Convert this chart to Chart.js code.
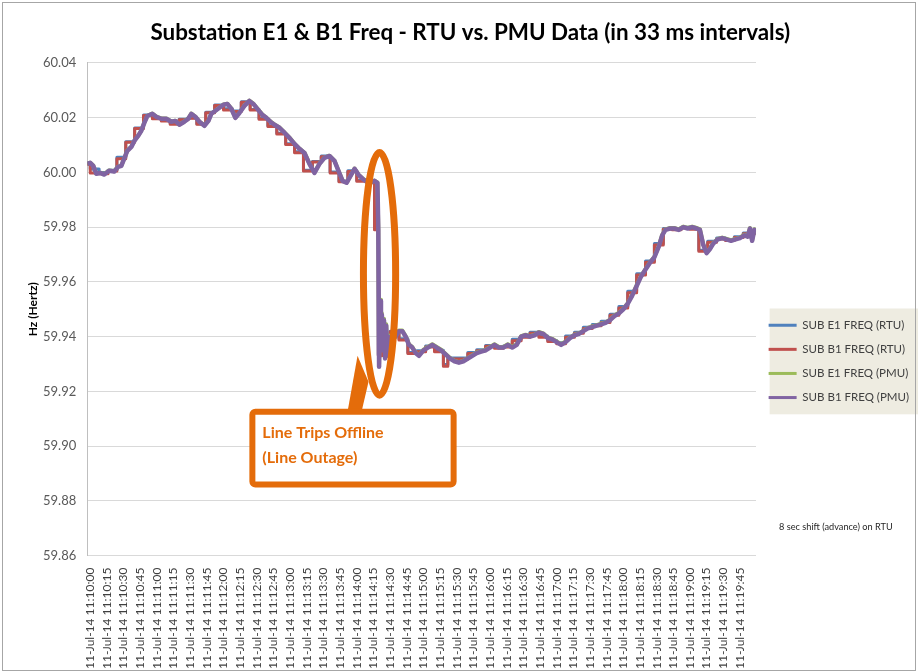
<!DOCTYPE html>
<html>
<head>
<meta charset="utf-8">
<script src="https://cdn.jsdelivr.net/npm/chart.js@4.4.0/dist/chart.umd.min.js"></script>
<style>
  html, body { margin: 0; padding: 0; background: #fff; }
</style>
</head>
<body>
<canvas id="freqChart" width="918" height="672"></canvas>
<script>
// x axis tick labels (every 15 s)
const tickLabels = [
  '11-Jul-14 11:10:00', '11-Jul-14 11:10:15', '11-Jul-14 11:10:30', '11-Jul-14 11:10:45',
  '11-Jul-14 11:11:00', '11-Jul-14 11:11:15', '11-Jul-14 11:11:30', '11-Jul-14 11:11:45',
  '11-Jul-14 11:12:00', '11-Jul-14 11:12:15', '11-Jul-14 11:12:30', '11-Jul-14 11:12:45',
  '11-Jul-14 11:13:00', '11-Jul-14 11:13:15', '11-Jul-14 11:13:30', '11-Jul-14 11:13:45',
  '11-Jul-14 11:14:00', '11-Jul-14 11:14:15', '11-Jul-14 11:14:30', '11-Jul-14 11:14:45',
  '11-Jul-14 11:15:00', '11-Jul-14 11:15:15', '11-Jul-14 11:15:30', '11-Jul-14 11:15:45',
  '11-Jul-14 11:16:00', '11-Jul-14 11:16:15', '11-Jul-14 11:16:30', '11-Jul-14 11:16:45',
  '11-Jul-14 11:17:00', '11-Jul-14 11:17:15', '11-Jul-14 11:17:30', '11-Jul-14 11:17:45',
  '11-Jul-14 11:18:00', '11-Jul-14 11:18:15', '11-Jul-14 11:18:30', '11-Jul-14 11:18:45',
  '11-Jul-14 11:19:00', '11-Jul-14 11:19:15', '11-Jul-14 11:19:30', '11-Jul-14 11:19:45'
]

// PMU samples, seconds after 11:10:00
const pmuTime = [
  -2.7, 0, 2.7, 5.4, 9, 12.6, 17, 21.6, 25, 28,
  30.6, 33.4, 37, 39.7, 43.3, 46, 48.7, 51.4, 55.9, 59.5,
  64, 68.5, 73, 76.6, 80.2, 84.7, 88.3, 91, 94.6, 98.3,
  102.8, 106.4, 109, 112.7, 116.3, 119.9, 123.5, 127.1, 130.7, 134.3,
  138.8, 143.3, 146.9, 150.5, 155, 158.6, 162.2, 165.9, 170.4, 174.9,
  179.4, 183.9, 188.4, 192.9, 197.4, 201.9, 206.4, 210.9, 215.4, 219.9,
  223.5, 227.2, 230.8, 234.4, 238, 241.6, 245.2, 248.8, 252.4, 256,
  258.6, 259.4, 260.1, 261, 261.8, 262.6, 263.5, 264.5, 265.5, 266.5,
  267.5, 268.5, 270, 272, 275, 278, 281, 284, 287, 290,
  293, 296, 300, 304, 308, 312, 316, 320, 324, 328,
  332, 336, 340, 344, 348, 352, 356, 360, 364, 368,
  372, 376, 380, 384, 388, 392, 396, 400, 404, 408,
  412, 416, 420, 424, 428, 432, 436, 440, 444, 448,
  452, 456, 460, 464, 468, 472, 476, 480, 484, 488,
  492, 496, 500, 504, 508, 512, 515, 518, 522, 526,
  530, 534, 538, 542, 546, 549, 552, 555, 558, 561,
  565, 569, 573, 577, 581, 585, 589, 592, 594, 596,
  598, 599.5
]
const pmuB1 = [
  60.0031, 60.0035, 60.0024, 59.9995, 59.9998, 59.9992, 60.0006, 60.0003, 60.0020, 60.0024,
  60.0050, 60.0079, 60.0093, 60.0115, 60.0134, 60.0152, 60.0181, 60.0206, 60.0214, 60.0203,
  60.0196, 60.0196, 60.0185, 60.0188, 60.0174, 60.0185, 60.0196, 60.0214, 60.0203, 60.0185,
  60.0170, 60.0188, 60.0214, 60.0225, 60.0236, 60.0247, 60.0250, 60.0232, 60.0199, 60.0217,
  60.0243, 60.0261, 60.0250, 60.0232, 60.0210, 60.0199, 60.0185, 60.0174, 60.0163, 60.0145,
  60.0126, 60.0104, 60.0086, 60.0071, 60.0031, 59.9998, 60.0031, 60.0053, 60.0060, 60.0042,
  60.0006, 59.9969, 59.9962, 59.9987, 60.0013, 59.9991, 59.9977, 59.9966, 59.9962, 59.9969,
  59.9962, 59.9790, 59.9290, 59.9530, 59.9440, 59.9480, 59.9350, 59.9460, 59.9320, 59.9440,
  59.9330, 59.9400, 59.9370, 59.9390, 59.9400, 59.9420, 59.9420, 59.9400, 59.9370, 59.9360,
  59.9340, 59.9330, 59.9350, 59.9360, 59.9370, 59.9360, 59.9350, 59.9335, 59.9320, 59.9310,
  59.9305, 59.9310, 59.9320, 59.9330, 59.9340, 59.9345, 59.9350, 59.9360, 59.9370, 59.9360,
  59.9360, 59.9370, 59.9360, 59.9370, 59.9400, 59.9405, 59.9400, 59.9405, 59.9415, 59.9410,
  59.9395, 59.9390, 59.9380, 59.9370, 59.9380, 59.9395, 59.9405, 59.9410, 59.9420, 59.9430,
  59.9435, 59.9440, 59.9445, 59.9450, 59.9460, 59.9475, 59.9485, 59.9500, 59.9520, 59.9550,
  59.9585, 59.9620, 59.9645, 59.9670, 59.9690, 59.9730, 59.9770, 59.9790, 59.9795, 59.9795,
  59.9790, 59.9800, 59.9795, 59.9800, 59.9795, 59.9790, 59.9735, 59.9705, 59.9720, 59.9740,
  59.9755, 59.9760, 59.9755, 59.9750, 59.9755, 59.9760, 59.9770, 59.9765, 59.9795, 59.9750,
  59.9790, 59.9780
]
const pmuE1 = [
  60.0032, 60.0035, 60.0025, 59.9996, 59.9999, 59.9994, 60.0007, 60.0004, 60.0021, 60.0025,
  60.0051, 60.0080, 60.0094, 60.0116, 60.0135, 60.0153, 60.0182, 60.0207, 60.0215, 60.0204,
  60.0197, 60.0197, 60.0186, 60.0189, 60.0175, 60.0186, 60.0197, 60.0215, 60.0204, 60.0186,
  60.0171, 60.0189, 60.0215, 60.0226, 60.0237, 60.0248, 60.0251, 60.0233, 60.0200, 60.0218,
  60.0244, 60.0262, 60.0251, 60.0233, 60.0211, 60.0200, 60.0186, 60.0175, 60.0164, 60.0146,
  60.0127, 60.0105, 60.0087, 60.0072, 60.0032, 59.9999, 60.0032, 60.0054, 60.0061, 60.0043,
  60.0007, 59.9970, 59.9963, 59.9988, 60.0014, 59.9992, 59.9978, 59.9967, 59.9963, 59.9970,
  59.9963, 59.9795, 59.9300, 59.9535, 59.9445, 59.9485, 59.9355, 59.9465, 59.9325, 59.9445,
  59.9335, 59.9405, 59.9372, 59.9392, 59.9402, 59.9422, 59.9422, 59.9402, 59.9372, 59.9362,
  59.9342, 59.9332, 59.9352, 59.9362, 59.9372, 59.9362, 59.9352, 59.9337, 59.9322, 59.9312,
  59.9307, 59.9312, 59.9322, 59.9332, 59.9342, 59.9347, 59.9352, 59.9362, 59.9372, 59.9362,
  59.9362, 59.9372, 59.9362, 59.9372, 59.9402, 59.9407, 59.9402, 59.9407, 59.9417, 59.9412,
  59.9397, 59.9392, 59.9382, 59.9372, 59.9382, 59.9397, 59.9407, 59.9412, 59.9422, 59.9432,
  59.9437, 59.9442, 59.9447, 59.9452, 59.9462, 59.9477, 59.9487, 59.9502, 59.9522, 59.9552,
  59.9587, 59.9622, 59.9647, 59.9672, 59.9692, 59.9732, 59.9772, 59.9792, 59.9797, 59.9797,
  59.9792, 59.9802, 59.9797, 59.9802, 59.9797, 59.9792, 59.9737, 59.9707, 59.9722, 59.9742,
  59.9757, 59.9762, 59.9757, 59.9752, 59.9757, 59.9762, 59.9772, 59.9767, 59.9797, 59.9752,
  59.9792, 59.9782
]

// RTU samples (held until the next sample)
const rtuTime = [
  -2.7, 0, 8, 16, 24, 32, 40, 48, 56, 64,
  72, 80, 88, 96, 104, 112, 120, 128, 136, 144,
  152, 160, 168, 176, 184, 192, 200, 208, 216, 224,
  232, 240, 248, 256, 259.4, 262.6, 270, 278, 286, 294,
  302, 310, 318, 322, 340, 348, 356, 364, 372, 380,
  388, 396, 404, 412, 420, 428, 436, 444, 452, 460,
  468, 476, 484, 492, 500, 508, 516, 524, 532, 540,
  548, 556, 564, 572, 580, 588, 596, 599.5
]
const rtuB1 = [
  60.0025, 60.0030, 59.9998, 59.9995, 60.0005, 60.0050, 60.0110, 60.0160, 60.0208, 60.0196,
  60.0188, 60.0176, 60.0192, 60.0198, 60.0176, 60.0218, 60.0244, 60.0228, 60.0222, 60.0256,
  60.0228, 60.0194, 60.0168, 60.0140, 60.0102, 60.0072, 60.0005, 60.0038, 60.0057, 59.9998,
  59.9966, 60.0003, 59.9968, 59.9966, 59.9790, 59.9330, 59.9375, 59.9418, 59.9388, 59.9338,
  59.9345, 59.9362, 59.9345, 59.9292, 59.9318, 59.9338, 59.9348, 59.9365, 59.9358, 59.9362,
  59.9385, 59.9398, 59.9412, 59.9398, 59.9382, 59.9374, 59.9398, 59.9412, 59.9430, 59.9440,
  59.9452, 59.9478, 59.9505, 59.9560, 59.9625, 59.9672, 59.9735, 59.9792, 59.9790, 59.9797,
  59.9792, 59.9712, 59.9745, 59.9757, 59.9751, 59.9762, 59.9776, 59.9778
]
const rtuE1 = [
  60.0035, 60.0034, 60.0012, 60.0000, 60.0008, 60.0055, 60.0112, 60.0162, 60.0210, 60.0198,
  60.0190, 60.0179, 60.0194, 60.0200, 60.0178, 60.0220, 60.0246, 60.0232, 60.0224, 60.0258,
  60.0230, 60.0197, 60.0170, 60.0143, 60.0105, 60.0075, 60.0008, 60.0040, 60.0060, 60.0001,
  59.9968, 60.0006, 59.9970, 59.9969, 59.9792, 59.9335, 59.9380, 59.9420, 59.9392, 59.9342,
  59.9348, 59.9366, 59.9350, 59.9298, 59.9322, 59.9342, 59.9352, 59.9368, 59.9362, 59.9366,
  59.9390, 59.9402, 59.9416, 59.9402, 59.9386, 59.9378, 59.9402, 59.9416, 59.9434, 59.9444,
  59.9456, 59.9482, 59.9510, 59.9566, 59.9630, 59.9676, 59.9740, 59.9795, 59.9793, 59.9800,
  59.9795, 59.9716, 59.9748, 59.9760, 59.9754, 59.9765, 59.9779, 59.9781
]

const seriesNames = ['SUB E1 FREQ (RTU)', 'SUB B1 FREQ (RTU)', 'SUB E1 FREQ (PMU)', 'SUB B1 FREQ (PMU)']
const seriesColors = ['#4F81BD', '#C0504D', '#9BBB59', '#8064A2']

const orange = '#E46C0A'

const clock = (label) => {
  const [h, m, s] = label.split(' ')[1].split(':').map(Number)
  return h * 3600 + m * 60 + s
}
const tickSecs = tickLabels.map(l => clock(l) - clock(tickLabels[0]))

const points = (times, values) => times.map((t, i) => ({ x: t, y: values[i] }))

Chart.defaults.font.family = 'Lato'

// beige box behind the legend, plus the outer frame
const framePlugin = {
  id: 'frame',
  beforeDraw (chart) {
    const { ctx, legend } = chart
    const boxes = legend.legendHitBoxes
    if (!boxes || !boxes.length) return
    const first = boxes[0]
    const last = boxes[boxes.length - 1]
    ctx.save()
    ctx.fillStyle = '#EEECE1'
    ctx.fillRect(first.left + 1, first.top - 11, chart.width - first.left - 1, last.top + last.height - first.top + 22)
    ctx.restore()
  },
  afterDraw (chart) {
    const { ctx } = chart
    ctx.save()
    ctx.strokeStyle = '#A6A6A6'
    ctx.lineWidth = 1
    ctx.strokeRect(2.5, 2.5, chart.width - 5, chart.height - 4)
    ctx.restore()
  }
}

// orange ellipse + callout box around the trip
const calloutPlugin = {
  id: 'callout',
  afterDatasetsDraw (chart) {
    const { ctx, scales: { x, y } } = chart
    const cx = x.getPixelForValue(260.5)
    const rx = x.getPixelForValue(260.5 + 14.5) - cx
    const top = y.getPixelForValue(60.0073)
    const bottom = y.getPixelForValue(59.9186)
    const cy = (top + bottom) / 2
    const ry = (bottom - top) / 2
    const bl = x.getPixelForValue(146)
    const br = x.getPixelForValue(327.2)
    const bt = y.getPixelForValue(59.9126)
    const bb = y.getPixelForValue(59.8860)

    ctx.save()
    ctx.strokeStyle = orange
    ctx.fillStyle = orange
    ctx.lineWidth = 7
    ctx.beginPath()
    ctx.ellipse(cx, cy, rx, ry, 0, 0, Math.PI * 2)
    ctx.stroke()

    // tail from ellipse to box
    ctx.beginPath()
    ctx.moveTo(cx - 22, cy + 82)
    ctx.lineTo(cx - 11, cy + 108)
    ctx.lineTo(cx - 18, bt)
    ctx.lineTo(cx - 32, bt)
    ctx.closePath()
    ctx.fill()

    ctx.lineWidth = 6
    ctx.fillStyle = '#FFFFFF'
    ctx.beginPath()
    ctx.roundRect(bl, bt, br - bl, bb - bt, 3)
    ctx.fill()
    ctx.stroke()

    ctx.fillStyle = orange
    ctx.font = 'bold 16px Lato'
    ctx.textBaseline = 'middle'
    ctx.fillText('Line Trips Offline', bl + 10, bt + 21)
    ctx.fillText('(Line Outage)', bl + 10, bt + 46)

    ctx.fillStyle = '#262626'
    ctx.font = '9.2px Lato'
    ctx.fillText('8 sec shift (advance) on RTU', chart.chartArea.right + 23, y.getPixelForValue(59.8703))
    ctx.restore()
  }
}

const tickFont = { family: 'Lato', size: 12 }

new Chart(document.getElementById('freqChart'), {
  type: 'line',
  data: {
    datasets: [
      { label: seriesNames[0], data: points(rtuTime, rtuE1), stepped: 'after', borderColor: seriesColors[0], backgroundColor: seriesColors[0], borderWidth: 3, order: 4 },
      { label: seriesNames[1], data: points(rtuTime, rtuB1), stepped: 'after', borderColor: seriesColors[1], backgroundColor: seriesColors[1], borderWidth: 3, order: 3 },
      { label: seriesNames[2], data: points(pmuTime, pmuE1), borderColor: seriesColors[2], backgroundColor: seriesColors[2], borderWidth: 4, order: 2 },
      { label: seriesNames[3], data: points(pmuTime, pmuB1), borderColor: seriesColors[3], backgroundColor: seriesColors[3], borderWidth: 4.5, order: 1 }
    ]
  },
  options: {
    responsive: false,
    animation: false,
    elements: {
      point: { radius: 0 },
      line: { tension: 0, borderJoinStyle: 'round' }
    },
    layout: { padding: { left: 21.6, right: -1, top: 0, bottom: -1 } },
    plugins: {
      title: {
        display: true,
        text: 'Substation E1 & B1 Freq - RTU vs. PMU Data (in 33 ms intervals)',
        font: { family: 'Lato', size: 22.4, weight: 'bold' },
        color: '#000000',
        padding: { top: 19, bottom: 17 }
      },
      legend: {
        position: 'right',
        title: { display: true, text: ' ', font: { size: 12 }, padding: { top: 0, bottom: 35.4 } },
        labels: {
          font: { family: 'Lato', size: 11.5 },
          color: '#404040',
          boxWidth: 28,
          boxHeight: 3,
          padding: 12.6,
          sort: (a, b) => a.datasetIndex - b.datasetIndex,
          generateLabels: (chart) => Chart.defaults.plugins.legend.labels.generateLabels(chart).map(l => ({ ...l, lineWidth: 0 }))
        }
      },
      tooltip: { enabled: false }
    },
    scales: {
      x: {
        type: 'linear',
        min: -2.7,
        max: 599.5,
        grid: { display: false },
        border: { display: false },
        afterBuildTicks: (axis) => { axis.ticks = tickSecs.map(v => ({ value: v })) },
        ticks: {
          autoSkip: false,
          minRotation: 90,
          maxRotation: 90,
          padding: 4,
          font: tickFont,
          color: '#404040',
          callback: (v) => tickLabels[tickSecs.indexOf(v)]
        }
      },
      y: {
        min: 59.86,
        max: 60.04,
        ticks: {
          stepSize: 0.02,
          padding: 11,
          font: { family: 'Lato', size: 13 },
          color: '#595959',
          callback: (v) => v.toFixed(2)
        },
        grid: { color: '#D9D9D9', drawTicks: false },
        border: { color: '#BFBFBF' },
        title: {
          display: true,
          text: 'Hz (Hertz)',
          font: { family: 'Lato', size: 12, weight: 'bold' },
          color: '#000000',
          padding: { top: 4, bottom: -8 }
        }
      }
    }
  },
  plugins: [framePlugin, calloutPlugin]
})
</script>
</body>
</html>
